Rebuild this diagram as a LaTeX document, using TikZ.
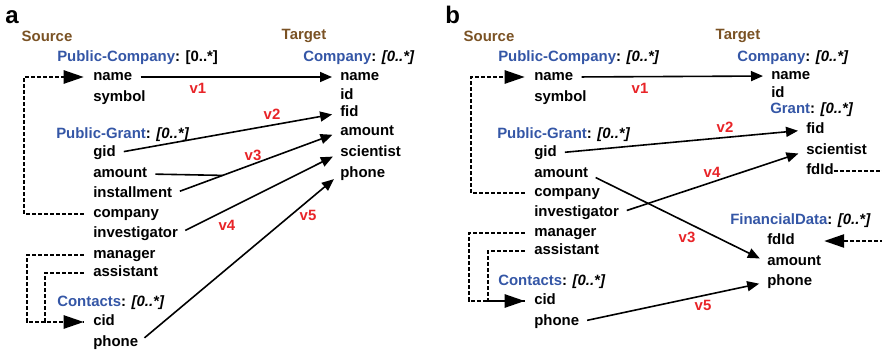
\documentclass[tikz,border=0pt]{standalone}
\usepackage{fontspec}
\setmainfont{Liberation Sans}
\usetikzlibrary{arrows.meta,calc}
\definecolor{srcbrown}{RGB}{122,82,36}
\definecolor{entblue}{RGB}{52,86,166}
\definecolor{mapred}{RGB}{232,36,40}
\newcommand\entname[1]{{\color{entblue}#1}}

\begin{document}
\begin{tikzpicture}[x=0.75pt, y=-0.75pt,
    fld/.style={anchor=west, inner sep=0pt, text height=8pt, text depth=2.5pt,
                font=\bfseries\fontsize{11.2}{13}\selectfont},
    side/.style={inner sep=0pt, text=srcbrown, font=\bfseries\fontsize{11.2}{13}\selectfont},
    lbl/.style={inner sep=0pt, text=mapred, font=\bfseries\fontsize{11.2}{13}\selectfont},
    panel/.style={anchor=base west, inner sep=0pt, font=\bfseries\fontsize{18}{20}\selectfont},
    pil/.style={-{Triangle[length=9pt,width=7.5pt]}, line width=1.2pt, shorten <=6pt, shorten >=6pt},
    dsh/.style={line width=1.2pt, dash pattern=on 3pt off 1.5pt, shorten <=7pt},
    dtip/.style={-{Triangle[length=15pt,width=10pt]}, shorten >=7pt}
    ]
    \useasboundingbox (0,0) rectangle (882,354);

    % panel a
    \node[panel] (a-lab) at (5,23) {a};
    \node[side] (a-src) at (47,36) {Source};
    \node[side] (a-tgt) at (304,36) {Target};
    \node[fld] (aS-pc) at (57,58) {\entname{Public-Company}: [0..*]};
    \node[fld] (aS-name) at (93,77) {name};
    \node[fld] (aS-symbol) at (93,98) {symbol};
    \node[fld] (aS-pg) at (56,135) {\entname{Public-Grant}: \textit{[0..*]}};
    \node[fld] (aS-gid) at (93,153) {gid};
    \node[fld] (aS-amount) at (93,174) {amount};
    \node[fld] (aS-installment) at (93,194) {installment};
    \node[fld] (aS-company) at (93,214) {company};
    \node[fld] (aS-investigator) at (93,234) {investigator};
    \node[fld] (aS-manager) at (93,255) {manager};
    \node[fld] (aS-assistant) at (93,273) {assistant};
    \node[fld] (aS-ct) at (57,303) {\entname{Contacts}: \textit{[0..*]}};
    \node[fld] (aS-cid) at (93,322) {cid};
    \node[fld] (aS-phone) at (93,343) {phone};

    \node[fld] (aT-co) at (303,58) {\entname{Company}: \textit{[0..*]}};
    \node[fld] (aT-name) at (340,77) {name};
    \node[fld] (aT-id) at (340,96) {id};
    \node[fld] (aT-fid) at (340,113) {fid};
    \node[fld] (aT-amount) at (340,132) {amount};
    \node[fld] (aT-scientist) at (340,153) {scientist};
    \node[fld] (aT-phone) at (340,174) {phone};

    \draw[pil] (aS-name.east) -- (aT-name.west);
    \draw[pil] (aS-gid.east) -- (aT-fid.west);
    \coordinate (a-join) at ($(aS-installment.east)!0.3!(aT-amount.west)$);
    \draw[line width=1.2pt, shorten <=6pt] (aS-amount.east) -- (a-join);
    \draw[pil] (aS-installment.east) -- (aT-amount.west);
    \draw[pil] (aS-investigator.east) -- (aT-scientist.west);
    \draw[pil] (aS-phone.east) -- (aT-phone.west);
    \draw[dsh, dtip] (aS-company.west) -- ++(-69,0) |- (aS-name.west);
    \draw[dsh, dtip] (aS-manager.west) -- ++(-66,0) |- (aS-cid.west);
    \draw[dsh, shorten >=7pt] (aS-assistant.west) -- ++(-48,0) |- (aS-cid.west);

    \node[lbl] (a-v1) at (198,88) {v1};
    \node[lbl] (a-v2) at (272,114) {v2};
    \node[lbl] (a-v3) at (253,155) {v3};
    \node[lbl] (a-v4) at (227,225) {v4};
    \node[lbl] (a-v5) at (308,215) {v5};

    % panel b
    \node[panel] (b-lab) at (445,23) {b};
    \node[side] (b-src) at (489,36) {Source};
    \node[side] (b-tgt) at (738,36) {Target};
    \node[fld] (bS-pc) at (498,58) {\entname{Public-Company}: \textit{[0..*]}};
    \node[fld] (bS-name) at (534,77) {name};
    \node[fld] (bS-symbol) at (534,98) {symbol};
    \node[fld] (bS-pg) at (497,135) {\entname{Public-Grant}: \textit{[0..*]}};
    \node[fld] (bS-gid) at (534,153) {gid};
    \node[fld] (bS-amount) at (534,174) {amount};
    \node[fld] (bS-company) at (534,193) {company};
    \node[fld] (bS-investigator) at (534,213) {investigator};
    \node[fld] (bS-manager) at (534,233) {manager};
    \node[fld] (bS-assistant) at (534,251) {assistant};
    \node[fld] (bS-ct) at (498,282) {\entname{Contacts}: \textit{[0..*]}};
    \node[fld] (bS-cid) at (534,301) {cid};
    \node[fld] (bS-phone) at (534,322) {phone};

    \node[fld] (bT-co) at (737,58) {\entname{Company}: \textit{[0..*]}};
    \node[fld] (bT-name) at (771,76) {name};
    \node[fld] (bT-id) at (771,94) {id};
    \node[fld] (bT-gr) at (770,110) {\entname{Grant}: \textit{[0..*]}};
    \node[fld] (bT-fid) at (806,130) {fid};
    \node[fld] (bT-scientist) at (806,151) {scientist};
    \node[fld] (bT-fdid) at (806,171) {fdId};
    \node[fld] (bF-fd) at (730,221) {\entname{FinancialData}: \textit{[0..*]}};
    \node[fld] (bF-fdid) at (767,241) {fdId};
    \node[fld] (bF-amount) at (767,262) {amount};
    \node[fld] (bF-phone) at (767,282) {phone};
    \coordinate (b-out) at (884,171);
    \coordinate (b-in) at (884,241);

    \draw[pil] (bS-name.east) -- (bT-name.west);
    \draw[pil] (bS-gid.east) -- (bT-fid.west);
    \draw[pil] (bS-investigator.east) -- (bT-scientist.west);
    \draw[pil] (bS-amount.east) -- (bF-amount.west);
    \draw[pil] (bS-phone.east) -- (bF-phone.west);
    \draw[dsh, dtip] (bS-company.west) -- ++(-63,0) |- (bS-name.west);
    \draw[dsh, dtip] (bS-manager.west) -- ++(-65,0) |- (bS-cid.west);
    \draw[dsh, shorten >=7pt] (bS-assistant.west) -- ++(-46,0) |- (bS-cid.west);
    \draw[dsh, shorten <=0pt] (bT-fdid.east) -- (b-out);
    \draw[dsh, dtip, shorten <=0pt, shorten >=22pt] (b-in) -- (bF-fdid.east);

    \node[lbl] (b-v1) at (640,88) {v1};
    \node[lbl] (b-v2) at (725,127) {v2};
    \node[lbl] (b-v3) at (687,237) {v3};
    \node[lbl] (b-v4) at (712,172) {v4};
    \node[lbl] (b-v5) at (703,305) {v5};
\end{tikzpicture}
\end{document}
